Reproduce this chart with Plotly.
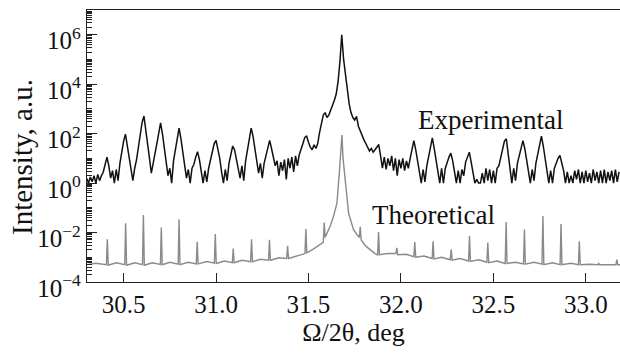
import plotly.graph_objects as go

# ---------------- data ----------------
# Experimental curve: log10(intensity) sampled every 0.01 deg from 30.30
exp_start = 30.30
exp_step = 0.01
exp_log = [
    0.2, 0.0, 0.25, 0.05, 0.3, 0.0, 0.35, 0.1, 0.3, 0.45,        # 30.30
    0.75, 1.05, 0.7, 0.2, 0.5, 0.0, 0.55, 0.1, 0.8, 1.3,          # 30.40
    1.7, 1.98, 1.55, 1.1, 0.65, 0.1, 0.6, 0.95, 1.45, 2.0,        # 30.50
    2.45, 2.71, 2.2, 1.6, 1.0, 0.4, 0.75, 1.2, 1.6, 2.0,          # 30.60
    2.44, 2.0, 1.45, 0.95, 0.3, 0.6, 0.0, 0.9, 1.4, 1.85,         # 30.70
    2.22, 1.8, 1.3, 0.8, 0.2, 0.55, 0.0, 0.6, 0.75, 1.05,         # 30.80
    1.27, 0.95, 0.5, 0.0, 0.5, 0.05, 0.6, 0.95, 1.3, 1.6,         # 30.90
    1.73, 1.4, 1.0, 0.45, 0.0, 0.55, 0.1, 0.8, 1.15, 1.5,         # 31.00
    1.35, 1.0, 0.6, 0.2, 0.7, 0.1, 0.9, 1.3, 1.8, 2.22,           # 31.10
    1.9, 1.4, 0.9, 0.4, 0.8, 0.2, 0.8, 1.1, 1.45, 1.73,           # 31.20
    1.4, 1.05, 0.7, 0.9, 0.3, 0.85, 0.5, 0.95, 0.15, 1.0,         # 31.30
    0.6, 1.05, 0.45, 1.1, 0.7, 1.15, 1.35, 1.6, 1.85, 1.9,        # 31.40
    1.65, 1.45, 1.35, 1.55, 1.4, 1.6, 2.05, 2.4, 2.75, 2.85,      # 31.50
    2.65, 2.75, 2.95, 3.1, 3.35, 3.6, 4.1, 4.9, 6.0, 5.0,         # 31.60
    4.4, 3.7, 3.2, 2.85, 2.65, 2.55, 2.7, 2.3, 2.1, 1.95,         # 31.70
    1.75, 1.6, 1.45, 1.3, 1.4, 1.25, 1.35, 1.45, 1.56, 1.1,       # 31.80
    0.6, 1.05, 0.55, 1.0, 0.7, 1.1, 0.5, 1.0, 0.3, 0.95,          # 31.90
    0.6, 1.0, 0.5, 0.9, 0.6, 1.0, 1.3, 1.72, 1.35, 0.85,          # 32.00
    0.45, 0.0, 0.55, 0.05, 0.7, 1.1, 1.5, 1.83, 1.4, 0.95,        # 32.10
    0.5, 0.0, 0.6, 0.0, 0.6, 0.85, 1.05, 1.21, 0.9, 0.45,         # 32.20
    0.0, 0.5, 0.0, 0.55, 0.3, 0.85, 1.1, 1.25, 0.85, 0.4,         # 32.30
    0.0, 0.15, 0.0, 0.0, 0.4, 0.0, 0.6, 0.1, 0.55, 0.0,           # 32.40
    0.5, 0.0, 0.6, 0.7, 1.05, 1.35, 1.7, 1.79, 1.2, 0.7,          # 32.50
    0.0, 0.6, 0.1, 0.8, 1.1, 1.45, 1.72, 1.4, 0.9, 0.4,           # 32.60
    0.0, 0.55, 0.1, 0.8, 1.2, 1.6, 1.9, 1.5, 1.0, 0.5,            # 32.70
    0.0, 0.5, 0.0, 0.6, 0.85, 1.0, 1.12, 0.85, 0.5, 0.0,          # 32.80
    0.45, 0.0, 0.3, 0.0, 0.5, 0.15, 0.55, 0.0, 0.45, 0.0,         # 32.90
    0.5, 0.05, 0.4, 0.0, 0.55, 0.1, 0.45, 0.0, 0.5, 0.0,          # 33.00
    0.55, 0.0, 0.45, 0.1, 0.5, 0.0, 0.55, 0.05, 0.45,             # 33.10
]

# Theoretical curve: (deg, log10 intensity) vertices
theo_x = [
    30.30, 30.35, 30.407, 30.412, 30.417, 30.46, 30.506, 30.511, 30.516,
    30.56, 30.602, 30.607, 30.612, 30.655, 30.699, 30.704, 30.709,
    30.75, 30.795, 30.800, 30.805, 30.85, 30.893, 30.898, 30.903,
    30.95, 30.991, 30.996, 31.001, 31.045, 31.088, 31.093, 31.098,
    31.14, 31.187, 31.192, 31.197, 31.24, 31.284, 31.289, 31.294,
    31.34, 31.382, 31.387, 31.392, 31.44, 31.481, 31.486, 31.491,
    31.53, 31.580, 31.585, 31.590, 31.605, 31.617, 31.635, 31.654,
    31.668, 31.675, 31.681, 31.687, 31.699, 31.717, 31.744, 31.762,
    31.775, 31.780, 31.785, 31.81, 31.834, 31.86, 31.874, 31.879, 31.884,
    31.93, 31.973, 31.978, 31.983, 32.03, 32.07, 32.075, 32.08,
    32.125, 32.169, 32.174, 32.179, 32.22, 32.267, 32.272, 32.277,
    32.32, 32.366, 32.371, 32.376, 32.42, 32.465, 32.470, 32.475,
    32.52, 32.564, 32.569, 32.574, 32.62, 32.663, 32.668, 32.673,
    32.72, 32.763, 32.768, 32.773, 32.82, 32.861, 32.866, 32.871,
    32.92, 32.960, 32.965, 32.970, 33.02, 33.066, 33.070, 33.075,
    33.12, 33.163, 33.168, 33.173, 33.19,
]
theo_log = [
    -3.30, -3.24, -3.30, -2.27, -3.32, -3.22, -3.30, -1.62, -3.32,
    -3.22, -3.30, -1.29, -3.32, -3.22, -3.29, -1.80, -3.30,
    -3.20, -3.28, -1.46, -3.30, -3.20, -3.27, -2.37, -3.27,
    -3.17, -3.24, -2.06, -3.25, -3.15, -3.22, -2.65, -3.22,
    -3.12, -3.18, -2.27, -3.18, -3.08, -3.12, -2.29, -3.12,
    -3.02, -3.05, -2.54, -3.05, -2.93, -2.85, -1.86, -2.82,
    -2.65, -2.40, -1.60, -2.20, -1.95, -1.76, -1.35, -0.81,
    0.53, 1.20, 1.94, 1.00, -0.01, -1.22, -1.89, -2.10,
    -2.20, -1.77, -2.30, -2.55, -2.70, -2.85, -2.90, -1.98, -2.90,
    -2.85, -2.85, -2.62, -2.90, -2.88, -2.98, -2.38, -3.00,
    -2.95, -3.05, -2.35, -3.07, -3.00, -3.10, -2.68, -3.12,
    -3.05, -3.15, -2.14, -3.17, -3.10, -3.20, -2.40, -3.22,
    -3.15, -3.25, -1.57, -3.25, -3.20, -3.27, -1.88, -3.28,
    -3.20, -3.28, -1.33, -3.30, -3.22, -3.30, -1.66, -3.30,
    -3.24, -3.30, -2.35, -3.30, -3.28, -3.30, -3.25, -3.30,
    -3.30, -3.30, -3.10, -3.30, -3.30,
]

x_range = [30.302, 33.185]
y_range_log = [-4, 7]
x_ticks = [30.5, 31.0, 31.5, 32.0, 32.5, 33.0]
x_ticklabels = ["30.5", "31.0", "31.5", "32.0", "32.5", "33.0"]
y_tick_powers = [-4, -2, 0, 2, 4, 6]
y_ticklabels = ["10<sup>−4</sup>", "10<sup>−2</sup>", "10<sup>0</sup>",
                "10<sup>2</sup>", "10<sup>4</sup>", "10<sup>6</sup>"]

# ---------------- figure ----------------
exp_x = [round(exp_start + exp_step * i, 4) for i in range(len(exp_log))]
exp_y = [10 ** v for v in exp_log]
theo_y = [10 ** v for v in theo_log]
y_tickvals = [10.0 ** p for p in y_tick_powers]
y_minor = [m * 10.0 ** p for p in range(-4, 7) for m in range(1, 10)
           if p not in y_tick_powers or m != 1]

FONT = "Liberation Serif, Times New Roman, serif"
W, H = 620, 354
ML, MR, MT, MB = 87, 0, 10, 72

fig = go.Figure()
fig.add_trace(go.Scatter(x=theo_x, y=theo_y, mode="lines",
                         line=dict(color="#8a8a8a", width=1.4),
                         showlegend=False, hoverinfo="skip"))
fig.add_trace(go.Scatter(x=exp_x, y=exp_y, mode="lines",
                         line=dict(color="#111111", width=1.5),
                         showlegend=False, hoverinfo="skip"))

fig.add_annotation(x=32.483, y=2.54, xref="x", yref="y", text="Experimental",
                   showarrow=False, font=dict(family=FONT, size=27, color="#111"))
fig.add_annotation(x=32.174, y=-1.29, xref="x", yref="y", text="Theoretical",
                   showarrow=False, font=dict(family=FONT, size=27, color="#111"))
# y-axis title, centred at pixel (22, 157) like the reference
fig.add_annotation(x=(22 - ML) / (W - ML - MR), y=(H - MB - 157) / (H - MT - MB),
                   xref="paper", yref="paper", xanchor="center", yanchor="middle",
                   text="Intensity, a.u.", textangle=-90, showarrow=False,
                   font=dict(family=FONT, size=29, color="#111"))

fig.update_layout(
    width=W, height=H,
    margin=dict(l=ML, r=MR, t=MT, b=MB),
    paper_bgcolor="white", plot_bgcolor="white",
    font=dict(family=FONT, size=25, color="#111"),
    xaxis=dict(range=x_range, tickvals=x_ticks, ticktext=x_ticklabels,
               ticks="inside", ticklen=9, tickwidth=1.2, tickcolor="#222",
               showline=True, linecolor="#222", linewidth=1.3, mirror=True,
               showgrid=False, zeroline=False, automargin=False,
               ticklabelstandoff=0,
               title=dict(text="Ω/2θ, deg", font=dict(size=26), standoff=4)),
    yaxis=dict(type="log", range=y_range_log, tickvals=y_tickvals,
               ticktext=y_ticklabels,
               ticks="inside", ticklen=10, tickwidth=1.2, tickcolor="#222",
               minor=dict(ticks="inside", tickvals=y_minor, ticklen=5,
                          tickwidth=1, tickcolor="#222"),
               showline=True, linecolor="#222", linewidth=1.3, mirror=False,
               showgrid=False, zeroline=False, ticklabelshift=6,
               automargin=False),
)

fig.write_html("out.html", config={"displayModeBar": False},
               post_script="document.body.style.margin='0';")
